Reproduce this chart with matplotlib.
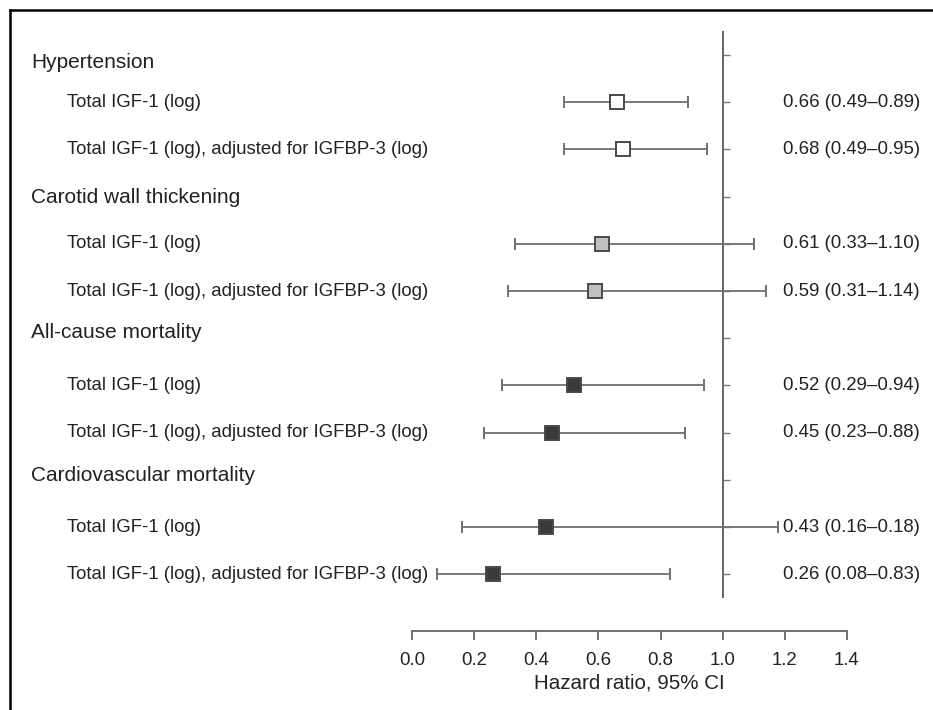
import matplotlib
matplotlib.use("Agg")
import matplotlib.pyplot as plt
import matplotlib.transforms as mtransforms
from matplotlib.lines import Line2D
from matplotlib.markers import TICKRIGHT

plt.rcParams["font.family"] = ["Liberation Sans", "DejaVu Sans"]

# outcomes and models
groups = ["Hypertension", "Carotid wall thickening", "All-cause mortality",
          "Cardiovascular mortality"]
models = ["Total IGF-1 (log)", "Total IGF-1 (log), adjusted for IGFBP-3 (log)"]

# hazard ratios with 95% CI
hr = [0.66, 0.68, 0.61, 0.59, 0.52, 0.45, 0.43, 0.26]
ci_lo = [0.49, 0.49, 0.33, 0.31, 0.29, 0.23, 0.16, 0.08]
ci_hi = [0.89, 0.95, 1.10, 1.14, 0.94, 0.88, 1.18, 0.83]
ci_text = ["0.66 (0.49\u20130.89)", "0.68 (0.49\u20130.95)",
           "0.61 (0.33\u20131.10)", "0.59 (0.31\u20131.14)",
           "0.52 (0.29\u20130.94)", "0.45 (0.23\u20130.88)",
           "0.43 (0.16\u20130.18)", "0.26 (0.08\u20130.83)"]

xticks = [0.0, 0.2, 0.4, 0.6, 0.8, 1.0, 1.2, 1.4]
xtick_labels = ["0.0", "0.2", "0.4", "0.6", "0.8", "1.0", "1.2", "1.4"]

# marker fill per outcome
fills = ["white", "#c0c0c0", "#3a3a3a", "#3a3a3a"]
txt = "#222222"

W, H = 933, 710
fig = plt.figure(figsize=(W / 100, H / 100), dpi=100)
ax = fig.add_axes([412.3 / W, 1 - 597.8 / H, (846.7 - 412.3) / W, (597.8 - 31.4) / H])

n_rows = len(groups) * (len(models) + 1)
ax.set_xlim(0, 1.4)
ax.set_ylim(n_rows - 0.5, -0.5)

# reference line at HR = 1 with small row ticks
ax.axvline(1.0, color="#666666", lw=1.4, zorder=1)
ax.plot([1.0] * n_rows, list(range(n_rows)), ls="none", marker=TICKRIGHT,
        ms=5, mew=1.0, color="#777777", zorder=1)

label_tf = mtransforms.blended_transform_factory(fig.transFigure, ax.transData)
header_nudge = [0.15, 0.02, -0.13, -0.09]

k = 0
for g, group in enumerate(groups):
    row = g * (len(models) + 1)
    ax.text(31 / W, row + header_nudge[g], group, transform=label_tf,
            ha="left", va="center", fontsize=15, color=txt)
    for m, model in enumerate(models):
        y = row + 1 + m
        ax.text(67 / W, y, model, transform=label_tf, ha="left", va="center",
                fontsize=13.4, color=txt)
        ax.errorbar(hr[k], y, xerr=[[hr[k] - ci_lo[k]], [ci_hi[k] - hr[k]]],
                    fmt="s", ms=10, mfc=fills[g], mec="#4a4a4a", mew=1.4,
                    ecolor="#707070", elinewidth=1.3, capsize=4, capthick=1.3,
                    zorder=3)
        ax.text(783 / W, y, ci_text[k], transform=label_tf, ha="left",
                va="center", fontsize=13.4, color=txt)
        k += 1

for side in ["left", "top", "right"]:
    ax.spines[side].set_visible(False)
ax.spines["bottom"].set_position(("outward", 24))
ax.spines["bottom"].set_bounds(0, 1.4)
ax.spines["bottom"].set_color("#666666")
ax.spines["bottom"].set_linewidth(1.3)
ax.set_yticks([])
ax.set_xticks(xticks)
ax.set_xticklabels(xtick_labels)
ax.tick_params(axis="x", direction="out", length=6.5, width=1.3, color="#666666",
               labelsize=13.4, labelcolor=txt, pad=8.5)
ax.set_xlabel("Hazard ratio, 95% CI", fontsize=14.8, color=txt, labelpad=3)

# frame around the panel (only top and left edges fall inside the image)
fig.add_artist(Line2D([10 / W, 10 / W], [0, 1 - 9.5 / H], transform=fig.transFigure,
                      color="black", lw=1.8))
fig.add_artist(Line2D([10 / W, 1], [1 - 9.5 / H, 1 - 9.5 / H], transform=fig.transFigure,
                      color="black", lw=1.8))

fig.savefig("out.png", dpi=100)
